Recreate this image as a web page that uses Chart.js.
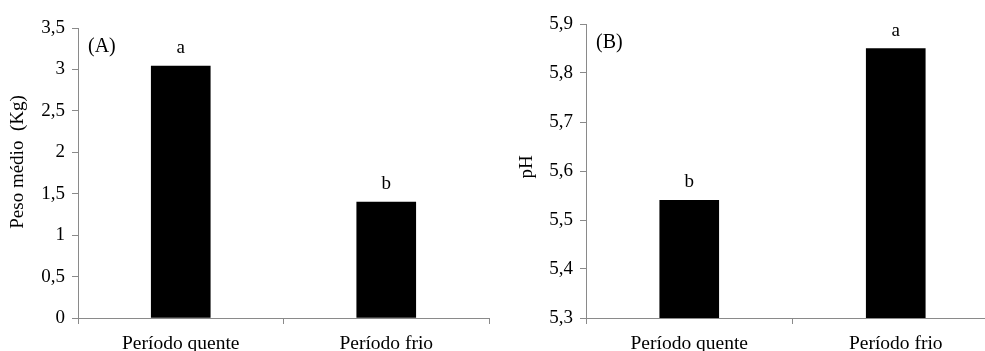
<!DOCTYPE html>
<html>
<head>
<meta charset="utf-8">
<script src="https://cdn.jsdelivr.net/npm/chart.js@4.4.1/dist/chart.umd.min.js"></script>
<style>
  html, body { margin: 0; padding: 0; background: #fff; overflow: hidden; }
  #wrap { position: relative; width: 985px; height: 351px; overflow: hidden; }
  .box { position: absolute; top: 0; height: 351px; }
</style>
</head>
<body>
<div id="wrap">
  <div class="box" style="left:0; width:500px;"><canvas id="chartA"></canvas></div>
  <div class="box" style="left:500px; width:505px;"><canvas id="chartB"></canvas></div>
</div>
<script>
// data
const categories = ['Período quente', 'Período frio'];
const pesoValues = [3.04, 1.40];
const pesoLetters = ['a', 'b'];
const phValues = [5.54, 5.85];
const phLetters = ['b', 'a'];
const pesoTicks = [0, 3.5, 0.5];   // min, max, step
const phTicks = [5.3, 5.9, 0.1];

const serif = "'Liberation Serif', 'Times New Roman', serif";
const axisGrey = '#8a8a8a';

// letters above bars, panel tag "(A)" / "(B)" and the rotated y title
const lettersPlugin = {
    id: 'letters',
    afterDatasetsDraw(chart, args, opts) {
        const ctx = chart.ctx;
        const area = chart.chartArea;
        const meta = chart.getDatasetMeta(0);
        ctx.save();
        ctx.fillStyle = '#000';
        ctx.font = '19px ' + serif;
        ctx.textAlign = 'center';
        ctx.textBaseline = 'alphabetic';
        meta.data.forEach((bar, i) => {
            ctx.fillText(opts.letters[i], bar.x, bar.y - 13);
        });
        ctx.font = '20px ' + serif;
        ctx.textAlign = 'left';
        ctx.fillText(opts.tag, area.left + 10, area.top + 24);

        // y axis title
        ctx.translate(opts.titleX, (area.top + area.bottom) / 2 + opts.titleShift);
        ctx.rotate(-Math.PI / 2);
        ctx.font = '19px ' + serif;
        ctx.textAlign = 'center';
        ctx.textBaseline = 'middle';
        ctx.fillText(opts.title, 0, 0);
        ctx.restore();
    }
};

function makeChart(id, values, letters, tag, ticks, yTitle, titleX, titleShift, yWidth, padTop, padRight) {
    const decimals = ticks[2] < 0.5 ? 1 : 0;
    return new Chart(document.getElementById(id), {
        type: 'bar',
        data: {
            labels: categories,
            datasets: [{
                data: values,
                backgroundColor: '#000',
                borderWidth: 0,
                barThickness: 59
            }]
        },
        options: {
            responsive: true,
            maintainAspectRatio: false,
            animation: false,
            layout: { padding: { top: padTop, right: padRight, left: 0, bottom: 0 } },
            plugins: {
                legend: { display: false },
                tooltip: { enabled: false },
                letters: { letters: letters, tag: tag, title: yTitle, titleX: titleX, titleShift: titleShift }
            },
            scales: {
                x: {
                    offset: true,
                    grid: { offset: true, drawOnChartArea: false, color: axisGrey, tickLength: 6 },
                    border: { color: axisGrey, width: 1 },
                    ticks: { color: '#000', font: { family: serif, size: 19.5 }, padding: 8, maxRotation: 0 },
                    afterFit(scale) { scale.height = 33; }
                },
                y: {
                    min: ticks[0],
                    max: ticks[1],
                    grid: { drawOnChartArea: false, color: axisGrey, tickLength: 6 },
                    border: { color: axisGrey, width: 1 },
                    ticks: {
                        stepSize: ticks[2],
                        color: '#000',
                        font: { family: serif, size: 19 },
                        padding: 7,
                        callback: v => {
                            const s = decimals ? v.toFixed(1) : (Number.isInteger(v) ? String(v) : v.toFixed(1));
                            return s.replace('.', ',');
                        }
                    },
                    afterFit(scale) { scale.width = yWidth; }
                }
            }
        },
        plugins: [lettersPlugin]
    });
}

makeChart('chartA', pesoValues, pesoLetters, '(A)', pesoTicks, 'Peso médio  (Kg)', 18, -11, 78, 28, 11);
makeChart('chartB', phValues, phLetters, '(B)', phTicks, 'pH', 27, -4, 86, 24, 6);
</script>
</body>
</html>
